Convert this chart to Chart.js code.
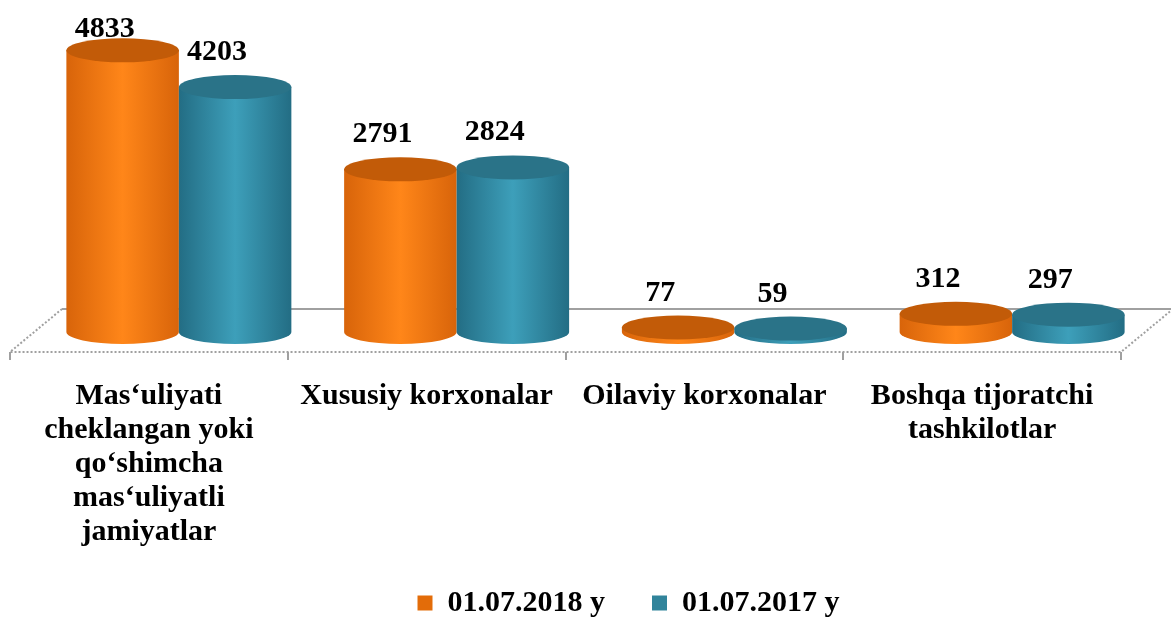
<!DOCTYPE html>
<html>
<head>
<meta charset="utf-8">
<script src="https://cdn.jsdelivr.net/npm/chart.js@4/dist/chart.umd.min.js"></script>
<style>
html,body{margin:0;padding:0;background:#fff}
#wrap{width:1171px;height:617px}
</style>
</head>
<body>
<div id="wrap"><canvas id="myChart"></canvas></div>
<script>
// chart values
const categories = [
    ["Mas‘uliyati", "cheklangan yoki", "qo‘shimcha", "mas‘uliyatli", "jamiyatlar"],
    "Xususiy korxonalar",
    "Oilaviy korxonalar",
    ["Boshqa tijoratchi", "tashkilotlar"]
];
const seriesNames = ["01.07.2018 y", "01.07.2017 y"];
const values2018 = [4833, 2791, 77, 312];
const values2017 = [4203, 2824, 59, 297];

const serif = '"Liberation Serif","Times New Roman",serif';

// 3d look: bars stand in the middle of the floor
const DEPTH_X = 30, DEPTH_Y = -20, RY = 12;
const FLOOR_X = 52, FLOOR_Y = -43;

const palettes = [
    {edge: '#d8640a', mid: '#ff8619', top: '#c25b08', legend: '#E36C09'},
    {edge: '#236d84', mid: '#3d9fba', top: '#2a7388', legend: '#31849B'}
];

function drawCylinder(ctx, cx, topY, baseY, w, pal) {
    const rx = w / 2, l = cx - rx, r = cx + rx;
    const g = ctx.createLinearGradient(l, 0, r, 0);
    g.addColorStop(0, pal.edge);
    g.addColorStop(0.5, pal.mid);
    g.addColorStop(1, pal.edge);
    ctx.fillStyle = g;
    ctx.beginPath();
    ctx.moveTo(l, topY);
    ctx.lineTo(l, baseY);
    ctx.ellipse(cx, baseY, rx, RY, 0, Math.PI, 0, true);
    ctx.lineTo(r, topY);
    ctx.closePath();
    ctx.fill();
    ctx.fillStyle = pal.top;
    ctx.beginPath();
    ctx.ellipse(cx, topY, rx, RY, 0, 0, Math.PI * 2);
    ctx.fill();
}

const floorPlugin = {
    id: 'floor',
    afterLayout(chart) {
        // legend sits a bit higher and to the right, as in the original
        const lg = chart.legend;
        lg.left += 63; lg.right += 63;
        lg.top -= 16; lg.bottom -= 16;
    },
    beforeDatasetsDraw(chart) {
        const {ctx, chartArea: {left, right, bottom}} = chart;
        ctx.save();
        ctx.strokeStyle = '#a0a0a0';
        ctx.lineWidth = 2;
        // back edge
        ctx.beginPath();
        ctx.moveTo(left + FLOOR_X, bottom + FLOOR_Y);
        ctx.lineTo(right + FLOOR_X, bottom + FLOOR_Y);
        ctx.stroke();
        // sides and front edge, dotted
        ctx.setLineDash([2, 2]);
        ctx.beginPath();
        ctx.moveTo(left + FLOOR_X, bottom + FLOOR_Y);
        ctx.lineTo(left, bottom);
        ctx.lineTo(right, bottom);
        ctx.lineTo(right + FLOOR_X, bottom + FLOOR_Y);
        ctx.stroke();
        ctx.setLineDash([]);
        // ticks between categories
        const n = chart.data.labels.length;
        const step = (right - left) / n;
        ctx.beginPath();
        for (let i = 0; i <= n; i++) {
            const x = Math.round(left + i * step);
            ctx.moveTo(x, bottom);
            ctx.lineTo(x, bottom + 8);
        }
        ctx.stroke();
        ctx.restore();
    },
    beforeDatasetDraw() {
        return false; // default rectangles replaced by cylinders
    },
    afterDatasetsDraw(chart) {
        const ctx = chart.ctx;
        ctx.save();
        const n = chart.data.labels.length;
        for (let j = 0; j < n; j++) {
            chart.data.datasets.forEach((ds, i) => {
                const bar = chart.getDatasetMeta(i).data[j];
                drawCylinder(ctx, bar.x + DEPTH_X, bar.y + DEPTH_Y, bar.base + DEPTH_Y, bar.width, palettes[i]);
            });
        }
        // value labels
        ctx.fillStyle = '#000';
        ctx.font = 'bold 30px ' + serif;
        ctx.textAlign = 'center';
        ctx.textBaseline = 'alphabetic';
        chart.data.datasets.forEach((ds, i) => {
            chart.getDatasetMeta(i).data.forEach((bar, j) => {
                const topEdge = bar.y + DEPTH_Y - RY;
                const y = Math.max(topEdge - 15, 37);
                ctx.fillText(String(ds.data[j]), bar.x + 12, y);
            });
        });
        ctx.restore();
    }
};

new Chart(document.getElementById('myChart'), {
    type: 'bar',
    data: {
        labels: categories,
        datasets: [
            {label: seriesNames[0], data: values2018, backgroundColor: palettes[0].legend,
             categoryPercentage: 0.81, barPercentage: 1},
            {label: seriesNames[1], data: values2017, backgroundColor: palettes[1].legend,
             categoryPercentage: 0.81, barPercentage: 1}
        ]
    },
    options: {
        responsive: true,
        maintainAspectRatio: false,
        animation: false,
        layout: {padding: {top: 14, left: 10, right: 50, bottom: -27}},
        scales: {
            x: {
                grid: {display: false, drawTicks: false},
                border: {display: false},
                afterFit(scale) {
                    scale.height = 205;
                },
                ticks: {
                    padding: 27,
                    color: '#000',
                    maxRotation: 0,
                    autoSkip: false,
                    font: {family: serif, size: 30, weight: 'bold', lineHeight: '34px'}
                }
            },
            y: {display: false, min: 0, max: 5800}
        },
        plugins: {
            legend: {
                position: 'bottom',
                labels: {
                    boxWidth: 15,
                    boxHeight: 15,
                    padding: 47,
                    color: '#000',
                    font: {family: serif, size: 30, weight: 'bold'}
                }
            },
            tooltip: {enabled: false}
        }
    },
    plugins: [floorPlugin]
});
</script>
</body>
</html>
